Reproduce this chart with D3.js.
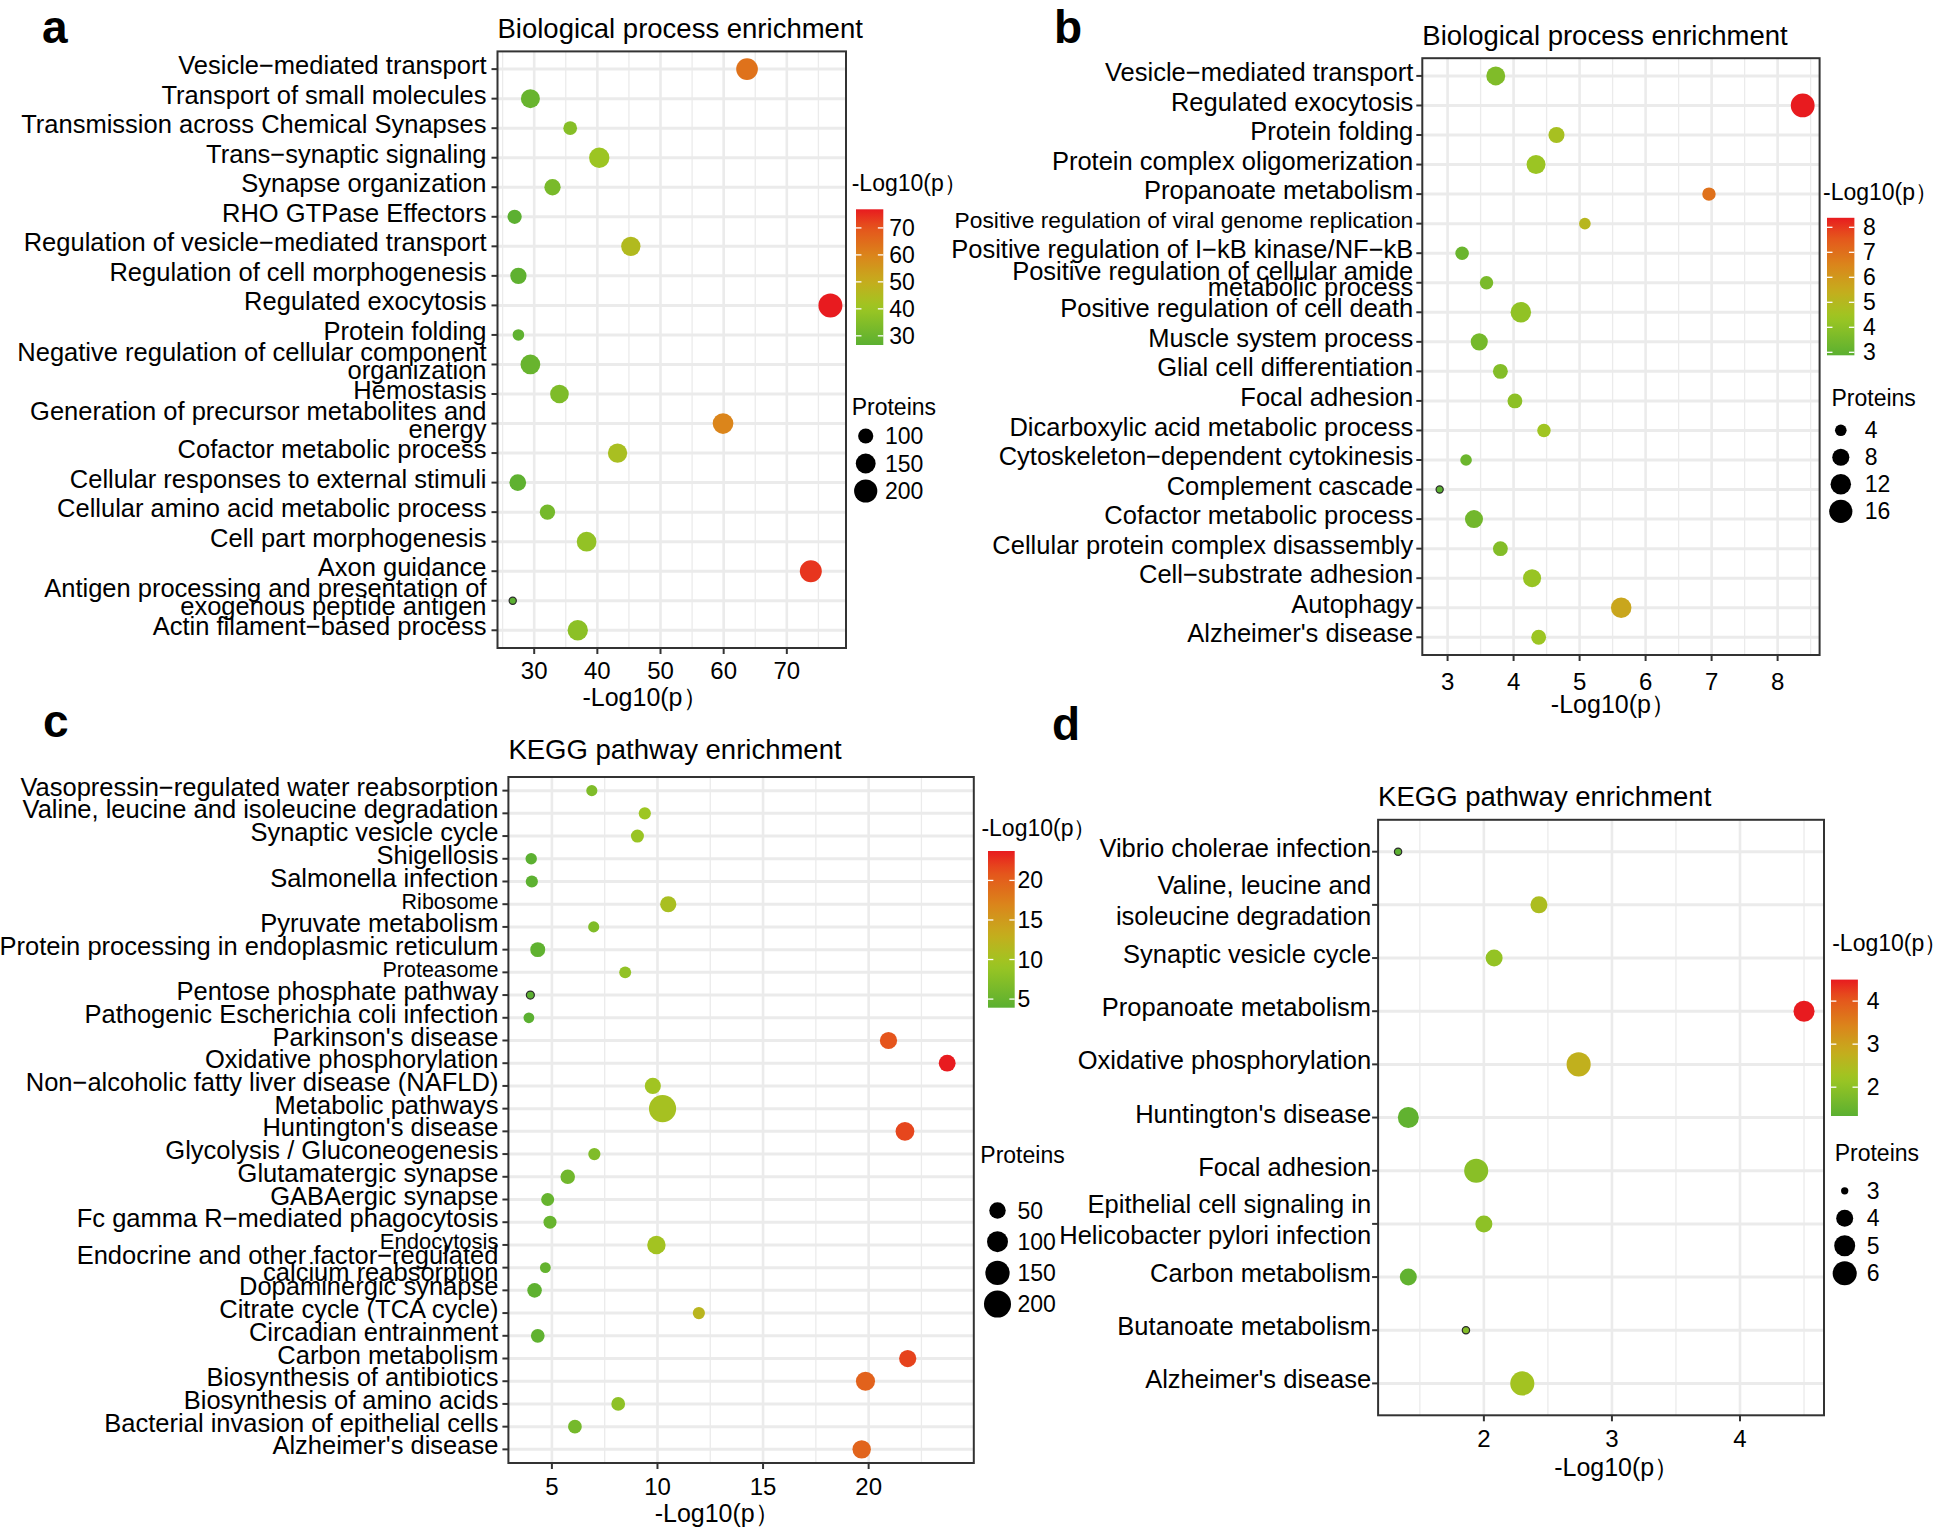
<!DOCTYPE html>
<html>
<head>
<meta charset="utf-8">
<script src="https://cdn.jsdelivr.net/npm/d3@7"></script>
<style>
  body { margin: 0; background: #fff; }
  text { font-family: "Liberation Sans", Arial, sans-serif; fill: #000; }
</style>
</head>
<body>
<script>
//////////////////////
// DATA (top row of each list = top row of the plot)
const M = "\u2212";

// a : Biological process enrichment
const aTerms = [
  "Vesicle" + M + "mediated transport", "Transport of small molecules", "Transmission across Chemical Synapses",
  "Trans" + M + "synaptic signaling", "Synapse organization", "RHO GTPase Effectors",
  "Regulation of vesicle" + M + "mediated transport", "Regulation of cell morphogenesis", "Regulated exocytosis",
  "Protein folding", "Negative regulation of cellular component\norganization", "Hemostasis",
  "Generation of precursor metabolites and\nenergy", "Cofactor metabolic process", "Cellular responses to external stimuli",
  "Cellular amino acid metabolic process", "Cell part morphogenesis", "Axon guidance",
  "Antigen processing and presentation of\nexogenous peptide antigen", "Actin filament" + M + "based process"
];
const aLogP = [63.7, 29.4, 35.7, 40.3, 32.9, 26.9, 45.3, 27.5, 76.9, 27.5, 29.4, 34.0, 59.9, 43.2, 27.4, 32.1, 38.3, 73.8, 26.6, 36.9];
const aProteins = [176, 139, 89, 156, 110, 93, 143, 110, 213, 77, 148, 135, 161, 143, 114, 101, 148, 180, 67, 156];
const aTicks = [30, 40, 50, 60, 70];
const aColorBreaks = [30, 40, 50, 60, 70];
const aSizeBreaks = [100, 150, 200];

// b : Biological process enrichment
const bTerms = [
  "Vesicle" + M + "mediated transport", "Regulated exocytosis", "Protein folding", "Protein complex oligomerization",
  "Propanoate metabolism", "Positive regulation of viral genome replication",
  "Positive regulation of I" + M + "kB kinase/NF" + M + "kB", "Positive regulation of cellular amide\nmetabolic process",
  "Positive regulation of cell death", "Muscle system process", "Glial cell differentiation", "Focal adhesion",
  "Dicarboxylic acid metabolic process", "Cytoskeleton" + M + "dependent cytokinesis", "Complement cascade",
  "Cofactor metabolic process", "Cellular protein complex disassembly", "Cell" + M + "substrate adhesion",
  "Autophagy", "Alzheimer's disease"
];
const bLogP = [3.73, 8.38, 4.65, 4.34, 6.96, 5.08, 3.22, 3.59, 4.11, 3.48, 3.80, 4.02, 4.46, 3.28, 2.88, 3.40, 3.80, 4.28, 5.63, 4.38];
const bProteins = [10, 17, 7, 10, 5, 4, 5, 5, 12, 8, 6, 6, 5, 4, 3, 9, 6, 9, 12, 6];
const bTicks = [3, 4, 5, 6, 7, 8];
const bColorBreaks = [3, 4, 5, 6, 7, 8];
const bSizeBreaks = [4, 8, 12, 16];

// c : KEGG pathway enrichment
const cTerms = [
  "Vasopressin" + M + "regulated water reabsorption", "Valine, leucine and isoleucine degradation", "Synaptic vesicle cycle",
  "Shigellosis", "Salmonella infection", "Ribosome", "Pyruvate metabolism", "Protein processing in endoplasmic reticulum",
  "Proteasome", "Pentose phosphate pathway", "Pathogenic Escherichia coli infection", "Parkinson's disease",
  "Oxidative phosphorylation", "Non" + M + "alcoholic fatty liver disease (NAFLD)", "Metabolic pathways",
  "Huntington's disease", "Glycolysis / Gluconeogenesis", "Glutamatergic synapse", "GABAergic synapse",
  "Fc gamma R" + M + "mediated phagocytosis", "Endocytosis", "Endocrine and other factor" + M + "regulated\ncalcium reabsorption",
  "Dopaminergic synapse", "Citrate cycle (TCA cycle)", "Circadian entrainment", "Carbon metabolism",
  "Biosynthesis of antibiotics", "Biosynthesis of amino acids", "Bacterial invasion of epithelial cells", "Alzheimer's disease"
];
const cLogP = [6.89, 9.40, 9.05, 4.02, 4.05, 10.51, 6.98, 4.33, 8.47, 3.98, 3.91, 20.94, 23.72, 9.78, 10.24,
  21.72, 7.01, 5.75, 4.80, 4.91, 9.95, 4.69, 4.18, 11.96, 4.33, 21.85, 19.85, 8.14, 6.09, 19.67];
const cProteins = [18, 22, 26, 19, 22, 47, 18, 38, 21, 13, 17, 57, 53, 47, 203,
  73, 22, 35, 26, 26, 69, 17, 35, 22, 30, 57, 77, 30, 30, 69];
const cTicks = [5, 10, 15, 20];
const cColorBreaks = [5, 10, 15, 20];
const cSizeBreaks = [50, 100, 150, 200];

// d : KEGG pathway enrichment
const dTerms = [
  "Vibrio cholerae infection", "Valine, leucine and\nisoleucine degradation", "Synaptic vesicle cycle",
  "Propanoate metabolism", "Oxidative phosphorylation", "Huntington's disease", "Focal adhesion",
  "Epithelial cell signaling in\nHelicobacter pylori infection", "Carbon metabolism", "Butanoate metabolism",
  "Alzheimer's disease"
];
const dLogP = [1.33, 2.43, 2.08, 4.50, 2.74, 1.41, 1.94, 2.00, 1.41, 1.86, 2.30];
const dProteins = [3, 4, 4, 5, 6, 5, 6, 4, 4, 3, 6];
const dTicks = [2, 3, 4];
const dColorBreaks = [2, 3, 4];
const dSizeBreaks = [3, 4, 5, 6];
//////////////////////

const W = 1946, H = 1532;
const TITLE_P = "-Log10(p\uFF09";
// green -> yellow -> red, positions are fractions of each panel's colour range
const gradStops = [[0, "#5BB031"], [0.28, "#9EC622"], [0.46, "#C4AE1D"], [0.66, "#DB851B"], [0.87, "#E5521C"], [1, "#E81B1F"]];
// a few labels were set smaller in the original figure
const labelSize = { "Ribosome": 21.5, "Proteasome": 21.5, "Endocytosis": 22, "Positive regulation of viral genome replication": 22.8 };

const svg = d3.select("body").append("svg")
  .attr("width", W).attr("height", H);
svg.append("rect").attr("width", W).attr("height", H).attr("fill", "#fff");
const defs = svg.append("defs");

const panels = [
  { id: "a", terms: aTerms, logp: aLogP, prot: aProteins, ticks: aTicks, cBreaks: aColorBreaks, sBreaks: aSizeBreaks,
    title: "Biological process enrichment", box: [497.5, 51.4, 846, 648], xDomain: [24.19, 79.37],
    letter: [42, 43], titleY: 28, xTitle: [645, 697], tickY: 670.5, labelGap: 11, lineGap: 18,
    cb: { x: 856, w: 27.3, y0: 209.3, y1: 345, titleX: 851.7, titleY: 183, labelX: 889.3 },
    sz: { titleX: 851.7, titleY: 407.3, keyX: 865.7, keyY: 436, step: 27.5, labelX: 885 }, rRange: [3.6, 12] },
  { id: "b", terms: bTerms, logp: bLogP, prot: bProteins, ticks: bTicks, cBreaks: bColorBreaks, sBreaks: bSizeBreaks,
    title: "Biological process enrichment", box: [1422.3, 58.2, 1819.6, 655], xDomain: [2.617, 8.636],
    letter: [1054, 43], titleY: 34.7, xTitle: [1613.4, 703.5], tickY: 681, labelGap: 9, lineGap: 16,
    cb: { x: 1827, w: 27.4, y0: 217.8, y1: 355.3, titleX: 1823, titleY: 191.8, labelX: 1863 },
    sz: { titleX: 1831.5, titleY: 397.8, keyX: 1840.8, keyY: 430.3, step: 27, labelX: 1864.7 }, rRange: [3.58, 11.9] },
  { id: "c", terms: cTerms, logp: cLogP, prot: cProteins, ticks: cTicks, cBreaks: cColorBreaks, sBreaks: cSizeBreaks,
    title: "KEGG pathway enrichment", box: [508.4, 777, 973.8, 1463], xDomain: [2.94, 24.98],
    letter: [43, 737], titleY: 748.8, xTitle: [717.2, 1513], tickY: 1486, labelGap: 10, lineGap: 17,
    cb: { x: 988, w: 26.7, y0: 851, y1: 1007.7, titleX: 981.4, titleY: 828, labelX: 1017.4 },
    sz: { titleX: 980.3, titleY: 1155.4, keyX: 997.5, keyY: 1210.5, step: 31.2, labelX: 1017.4 }, rRange: [4, 13.6] },
  { id: "d", terms: dTerms, logp: dLogP, prot: dProteins, ticks: dTicks, cBreaks: dColorBreaks, sBreaks: dSizeBreaks,
    title: "KEGG pathway enrichment", box: [1378.1, 819.8, 1824, 1415.3], xDomain: [1.174, 4.656],
    letter: [1052, 740], titleY: 795.7, xTitle: [1616.7, 1466.8], tickY: 1438, labelGap: 7, lineGap: 31,
    cb: { x: 1831, w: 26.9, y0: 979.6, y1: 1116, titleX: 1832.2, titleY: 943, labelX: 1866.7 },
    sz: { titleX: 1834.7, titleY: 1153.4, keyX: 1844.7, keyY: 1190.8, step: 27.5, labelX: 1866.7 }, rRange: [3.65, 12.05] }
];

panels.forEach(drawPanel);

function drawPanel(p) {
  const [x0, y0, x1, y1] = p.box;
  const g = svg.append("g").attr("class", "panel-" + p.id);

  const x = d3.scaleLinear().domain(p.xDomain).range([x0, x1]);
  const y = d3.scalePoint().domain(p.terms).range([y0, y1]).padding(0.6);

  const cMin = d3.min(p.logp), cMax = d3.max(p.logp);
  const color = d3.scaleLinear()
    .domain(gradStops.map(s => cMin + s[0] * (cMax - cMin)))
    .range(gradStops.map(s => s[1]))
    .interpolate(d3.interpolateRgb);
  const pMin = d3.min(p.prot), pMax = d3.max(p.prot);
  const r = d3.scaleSqrt().domain([0, pMax - pMin]).range(p.rRange);

  // grid
  const step = p.ticks[1] - p.ticks[0];
  const minor = d3.range(p.ticks[0] - step / 2, p.xDomain[1], step).filter(v => v > p.xDomain[0]);
  g.selectAll(".minor").data(minor).enter().append("line")
    .attr("x1", d => x(d)).attr("x2", d => x(d)).attr("y1", y0).attr("y2", y1)
    .attr("stroke", "#EBEBEB").attr("stroke-width", 1.3);
  g.selectAll(".vmajor").data(p.ticks).enter().append("line")
    .attr("x1", d => x(d)).attr("x2", d => x(d)).attr("y1", y0).attr("y2", y1)
    .attr("stroke", "#EBEBEB").attr("stroke-width", 2.6);
  g.selectAll(".hmajor").data(p.terms).enter().append("line")
    .attr("x1", x0).attr("x2", x1).attr("y1", d => y(d)).attr("y2", d => y(d))
    .attr("stroke", "#EBEBEB").attr("stroke-width", 3);

  // points
  const rows = p.terms.map((t, i) => ({ term: t, v: p.logp[i], n: p.prot[i] }));
  g.selectAll("circle.dot").data(rows).enter().append("circle")
    .attr("class", "dot")
    .attr("cx", d => x(d.v))
    .attr("cy", d => y(d.term))
    .attr("r", d => r(d.n - pMin))
    .attr("fill", d => color(d.v))
    .attr("stroke", d => d.n === pMin ? "#2b2b2b" : "none")
    .attr("stroke-width", 1.2);

  // border
  g.append("rect").attr("x", x0).attr("y", y0).attr("width", x1 - x0).attr("height", y1 - y0)
    .attr("fill", "none").attr("stroke", "#333").attr("stroke-width", 2);

  // y axis ticks + labels
  g.selectAll(".ytick").data(p.terms).enter().append("line")
    .attr("x1", x0 - 6).attr("x2", x0).attr("y1", d => y(d)).attr("y2", d => y(d))
    .attr("stroke", "#333").attr("stroke-width", 2);
  p.terms.forEach(t => {
    const fs = labelSize[t] || 25.5;
    const lines = t.split("\n");
    const base = y(t) + 0.2 * fs - (lines.length - 1) * p.lineGap / 2;
    const txt = g.append("text").attr("text-anchor", "end").attr("font-size", fs);
    lines.forEach((ln, k) => {
      txt.append("tspan").attr("x", x0 - p.labelGap).attr("y", base + k * p.lineGap).text(ln);
    });
  });

  // x axis ticks + labels
  g.selectAll(".xtick").data(p.ticks).enter().append("line")
    .attr("x1", d => x(d)).attr("x2", d => x(d)).attr("y1", y1).attr("y2", y1 + 6)
    .attr("stroke", "#333").attr("stroke-width", 2);
  g.selectAll(".xlab").data(p.ticks).enter().append("text")
    .attr("x", d => x(d)).attr("y", p.tickY + 8.5)
    .attr("text-anchor", "middle").attr("font-size", 24)
    .text(d => d);

  // titles
  g.append("text").attr("x", p.xTitle[0]).attr("y", p.xTitle[1] + 9)
    .attr("text-anchor", "middle").attr("font-size", 25).text(TITLE_P);
  g.append("text").attr("x", x0).attr("y", p.titleY + 10)
    .attr("font-size", 27.5).text(p.title);
  g.append("text").attr("x", p.letter[0]).attr("y", p.letter[1])
    .attr("font-size", 46).attr("font-weight", "bold").text(p.id);

  // colour bar legend
  const cb = p.cb;
  const gid = "grad-" + p.id;
  const grad = defs.append("linearGradient").attr("id", gid)
    .attr("x1", 0).attr("y1", 1).attr("x2", 0).attr("y2", 0);
  d3.range(0, 1.0001, 0.05).forEach(t => {
    grad.append("stop").attr("offset", t).attr("stop-color", color(cMin + t * (cMax - cMin)));
  });
  g.append("text").attr("x", cb.titleX).attr("y", cb.titleY + 8).attr("font-size", 23).text(TITLE_P);
  g.append("rect").attr("x", cb.x).attr("y", cb.y0).attr("width", cb.w).attr("height", cb.y1 - cb.y0)
    .attr("fill", "url(#" + gid + ")");
  const cbScale = d3.scaleLinear().domain([cMin, cMax]).range([cb.y1, cb.y0]);
  p.cBreaks.forEach(v => {
    const yy = cbScale(v);
    g.append("line").attr("x1", cb.x).attr("x2", cb.x + cb.w / 5).attr("y1", yy).attr("y2", yy)
      .attr("stroke", "#fff").attr("stroke-width", 1.3);
    g.append("line").attr("x1", cb.x + cb.w * 4 / 5).attr("x2", cb.x + cb.w).attr("y1", yy).attr("y2", yy)
      .attr("stroke", "#fff").attr("stroke-width", 1.3);
    g.append("text").attr("x", cb.labelX).attr("y", yy + 8).attr("font-size", 23).text(v);
  });

  // size legend
  const sz = p.sz;
  g.append("text").attr("x", sz.titleX).attr("y", sz.titleY + 8).attr("font-size", 23).text("Proteins");
  p.sBreaks.forEach((v, i) => {
    const yy = sz.keyY + i * sz.step;
    g.append("circle").attr("cx", sz.keyX).attr("cy", yy).attr("r", r(Math.max(0, v - pMin))).attr("fill", "#000");
    g.append("text").attr("x", sz.labelX).attr("y", yy + 8).attr("font-size", 23).text(v);
  });
}
</script>
</body>
</html>
